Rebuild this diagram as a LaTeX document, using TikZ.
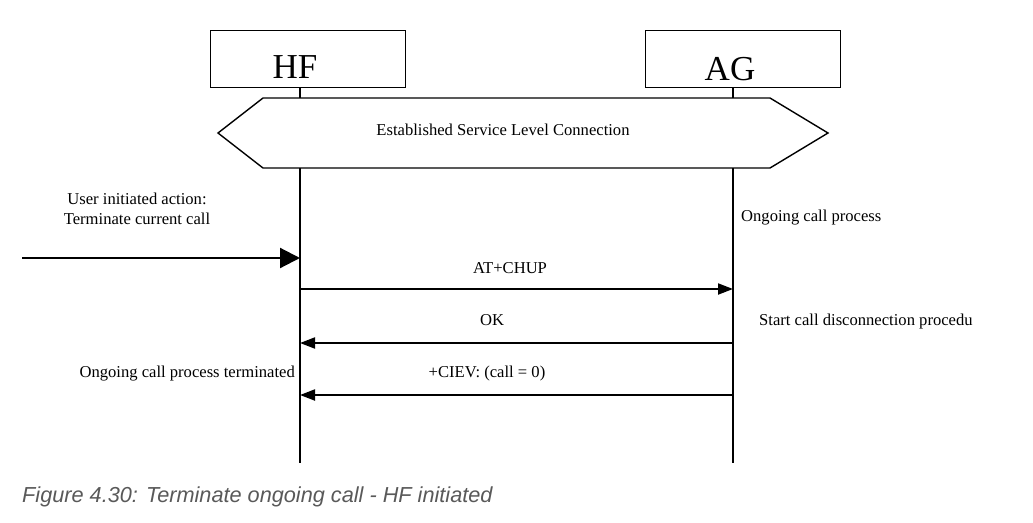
\documentclass[tikz,border=0pt]{standalone}
\usepackage{fontspec}
\setmainfont{Liberation Serif}
\newfontfamily\capfont{Liberation Sans}
\usetikzlibrary{arrows.meta}
\definecolor{capgrey}{HTML}{595959}
\tikzset{
  entity/.style={draw, line width=0.9pt, minimum width=195pt, minimum height=57pt, inner sep=0pt},
  bigtxt/.style={font=\fontsize{35}{36}\selectfont, inner sep=0pt, anchor=base},
  txt/.style={font=\fontsize{16.6}{19.5}\selectfont, inner sep=0pt},
  lifeline/.style={line width=2pt},
  msg/.style={line width=2pt, -{Triangle[length=15pt,width=11pt]}},
  bigmsg/.style={line width=2.2pt, -{Triangle[length=20pt,width=20pt]}}
}
\begin{document}
\begin{tikzpicture}[x=1pt,y=-1pt]
\useasboundingbox (0,0) rectangle (1033,522);
% entity boxes
\node[entity] (hf) at (307.5,58.5) {};
\node[entity] (ag) at (742.5,58.5) {};
\node[bigtxt] (hft) at (295,78) {HF};
\node[bigtxt] (agt) at (730,80) {AG};
% hexagon
\coordinate (hxl) at (218,133);
\coordinate (hxtl) at (263,98);
\coordinate (hxtr) at (770,98);
\coordinate (hxr) at (828,133);
\coordinate (hxbr) at (770,168);
\coordinate (hxbl) at (263,168);
\draw[line width=1.4pt] (hxl) -- (hxtl) -- (hxtr) -- (hxr) -- (hxbr) -- (hxbl) -- cycle;
\node[txt] (slc) at (503,130) {Established Service Level Connection};
% lifelines
\coordinate (hftop) at (300,87);
\coordinate (hfh1) at (300,98);
\coordinate (hfh2) at (300,168);
\coordinate (hfend) at (300,463);
\coordinate (agtop) at (733,87);
\coordinate (agh1) at (733,98);
\coordinate (agh2) at (733,168);
\coordinate (agend) at (733,463);
\draw[lifeline] (hftop) -- (hfh1);
\draw[lifeline] (hfh2) -- (hfend);
\draw[lifeline] (agtop) -- (agh1);
\draw[lifeline] (agh2) -- (agend);
% user action
\node[txt, align=center] (user) at (137,209) {User initiated action:\\Terminate current call};
\coordinate (uin) at (22,258);
\coordinate (hfin) at (300,258);
\draw[bigmsg] (uin) -- (hfin);
\node[txt, anchor=west] (ongo) at (741,217.5) {Ongoing call process};
% messages
\coordinate (m1a) at (300,289);
\coordinate (m1b) at (733,289);
\draw[msg] (m1a) -- (m1b);
\node[txt] (chup) at (510,268.5) {AT+CHUP};
\coordinate (m2a) at (733,343);
\coordinate (m2b) at (300,343);
\draw[msg] (m2a) -- (m2b);
\node[txt] (ok) at (492,320.5) {OK};
\node[txt, anchor=west] (start) at (759,321.5) {Start call disconnection procedu};
\coordinate (m3a) at (733,395);
\coordinate (m3b) at (300,395);
\draw[msg] (m3a) -- (m3b);
\node[txt] (ciev) at (487,373.5) {+CIEV: (call = 0)};
\node[txt, anchor=east] (term) at (295,373.5) {Ongoing call process terminated};
% caption
\node[font=\capfont\itshape\fontsize{21.7}{24}\selectfont, text=capgrey, anchor=west, inner sep=0pt] (cap) at (22,497) {Figure 4.30: Terminate ongoing call - HF initiated};
\end{tikzpicture}
\end{document}
